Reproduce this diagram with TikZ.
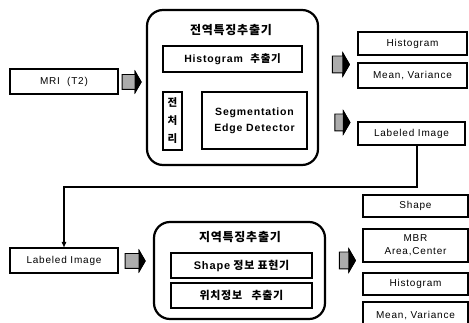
\documentclass[tikz,border=0pt]{standalone}
\usepackage{fontspec}
\setmainfont{Liberation Sans}[LetterSpace=8]
\newfontfamily\kr{Noto Sans CJK KR}[LetterSpace=6]
\usetikzlibrary{arrows.meta,shapes.arrows}

\begin{document}
\begin{tikzpicture}[x=1pt,y=-1pt,
    box/.style={draw, line width=1.1pt, inner sep=0pt, align=center, font=\fontsize{10}{13}\selectfont},
    inbox/.style={box, font=\bfseries\fontsize{10.5}{16}\selectfont},
    group/.style={draw, line width=2.2pt, rounded corners=16pt, inner sep=0pt},
    fat/.style={single arrow, draw, line width=0.9pt, fill=gray!65, inner xsep=0pt, inner ysep=7pt,
      single arrow head extend=3pt, single arrow tip angle=120},
    title/.style={font=\kr\bfseries\fontsize{12}{14}\selectfont}]

  \useasboundingbox (0,0) rectangle (469,323);

  % input
  \node[box, minimum width=108pt, minimum height=25pt] (mri) at (64,81.5) {MRI\ \ (T2)};
  \node[fat, minimum height=19pt] (f1) at (129.5,82) {};

  % global feature extractor
  \node[group, minimum width=171pt, minimum height=155pt] (glob) at (232.5,87.5) {};
  \node[title] (globT) at (231,30) {전역특징추출기};
  \node[inbox, minimum width=139pt, minimum height=26pt] (hist1) at (232.5,59) {Histogram\ \ {\kr 추출기}};
  \node[inbox, minimum width=19pt, minimum height=58pt, font=\kr\bfseries\fontsize{10.5}{18}\selectfont] (pre) at (172.5,121) {전\\처\\리};
  \node[inbox, minimum width=105pt, minimum height=57pt] (seg) at (254.5,120.5) {Segmentation\\Edge Detector};

  % global outputs
  \node[fat, minimum height=17pt, inner ysep=8pt] (f2) at (338.5,64.5) {};
  \node[box, minimum width=109pt, minimum height=23pt] (histo) at (412.5,43.5) {Histogram};
  \node[box, minimum width=109pt, minimum height=25pt] (mv) at (412.5,75.5) {Mean, Variance};
  \node[fat, minimum height=15pt, inner ysep=8pt] (f3) at (340,122.5) {};
  \node[box, minimum width=107pt, minimum height=23pt] (lab1) at (411.5,133.5) {Labeled Image};

  % feedback
  \coordinate (turn) at (64,187);
  \draw[line width=1.1pt, -{Latex[length=6pt,width=5pt]}] ([xshift=5.5pt]lab1.south) |- (turn) -- (64,248);

  % local feature extractor
  \node[box, minimum width=108pt, minimum height=25pt] (lab2) at (64,260.5) {Labeled Image};
  \node[fat, minimum height=20pt] (f4) at (133,261) {};
  \node[group, minimum width=171pt, minimum height=97pt] (loc) at (239.5,270.5) {};
  \node[title] (locT) at (240,237) {지역특징추출기};
  \node[inbox, minimum width=141pt, minimum height=25pt, font=\kr\bfseries\fontsize{11}{13}\selectfont] (shp) at (241.5,265.5) {{\fontspec{Liberation Sans}[LetterSpace=8]Shape}\ 정보 표현기};
  \node[inbox, minimum width=141pt, minimum height=25pt, font=\kr\bfseries\fontsize{11}{13}\selectfont] (pos) at (241.5,295.5) {위치정보\ \ \ 추출기};

  % local outputs
  \node[fat, minimum height=16pt, inner ysep=8pt] (f5) at (345,260.5) {};
  \node[box, minimum width=105pt, minimum height=22pt] (shape) at (415.5,206) {Shape};
  \node[box, minimum width=105pt, minimum height=33pt] (mbr) at (415.5,245.5) {MBR\\Area,Center};
  \node[box, minimum width=105pt, minimum height=22pt] (hist3) at (415.5,284) {Histogram};
  \node[box, minimum width=105pt, minimum height=28pt] (mv2) at (415.5,316) {Mean, Variance};

  % dark heads of the block arrows
  \foreach \f in {f1,f2,f3,f4,f5}
    \fill (\f.before tip) -- (\f.tip) -- (\f.after tip) -- cycle;
\end{tikzpicture}
\end{document}
